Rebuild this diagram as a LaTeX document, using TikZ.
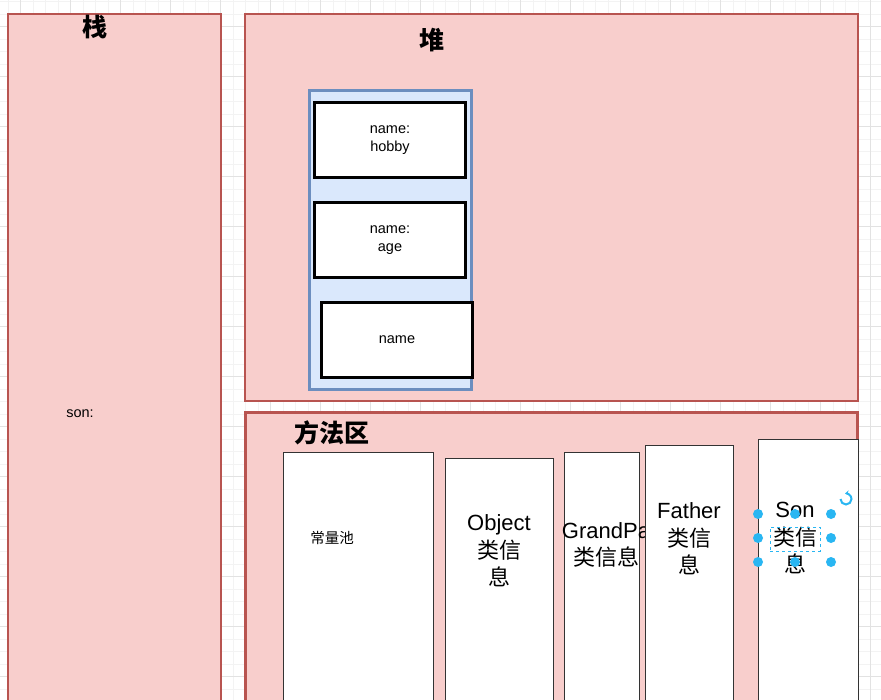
\documentclass[tikz,border=0pt]{standalone}
\usepackage{fontspec}
\setmainfont{Liberation Sans}
\newfontfamily\cjk{Noto Sans CJK SC}
\usepackage{tikz}
\usetikzlibrary{arrows.meta}
\definecolor{areafill}{HTML}{F8CECC}
\definecolor{areadraw}{HTML}{B85450}
\definecolor{objfill}{HTML}{DAE8FC}
\definecolor{objdraw}{HTML}{6C8EBF}
\definecolor{handleblue}{HTML}{29B6F2}
\definecolor{gridmajor}{HTML}{E2E2E2}
\definecolor{gridminor}{HTML}{F3F3F3}

\begin{document}
\begin{tikzpicture}[
    x=1pt, y=-1pt,
    area/.style={rectangle, anchor=north west, draw=areadraw, fill=areafill, line width=1.2pt, inner sep=0pt, outer sep=0pt},
    objbox/.style={rectangle, anchor=north west, draw=objdraw, fill=objfill, line width=3pt, inner sep=0pt},
    fieldbox/.style={rectangle, anchor=north west, draw=black, fill=white, line width=3pt, align=center, font=\fontsize{14.5}{18}\selectfont, minimum width=151pt, minimum height=75pt, inner sep=0pt},
    classbox/.style={rectangle, anchor=north west, draw=black!80, fill=white, line width=1.3pt, minimum height=270pt, inner sep=0pt},
    title/.style={font=\fontsize{25}{28}\selectfont\cjk\bfseries, inner sep=0pt},
    smalltext/.style={font=\fontsize{14.5}{18}\selectfont, inner sep=0pt},
    classtext/.style={font=\fontsize{22}{27.5}\selectfont, align=center, inner sep=0pt},
    handle/.style={circle, fill=handleblue, minimum size=10pt, inner sep=0pt},
    gridline/.style={gridminor, line width=0.7pt},
    gridbold/.style={gridmajor, line width=0.9pt}
]
\useasboundingbox (0,0) rectangle (881,700);

% Background grid
\foreach \k in {-1,...,69} {\draw[gridline] ({20.7+12.5*\k},0) -- ({20.7+12.5*\k},700);}
\foreach \k in {-2,...,54} {\draw[gridline] (0,{26.7+12.5*\k}) -- (881,{26.7+12.5*\k});}
\foreach \k in {0,...,17} {\draw[gridbold] ({20.7+50*\k},0) -- ({20.7+50*\k},700);}
\foreach \k in {0,...,13} {\draw[gridbold] (0,{26.7+50*\k}) -- (881,{26.7+50*\k});}

% Stack
\node[area, minimum width=213pt, minimum height=700pt] (stack) at (8,14) {};
\node[title] (stacktitle) at (95,27) {栈};
\node[smalltext] (sonvar) at (80,414) {son:};

% Heap
\node[area, minimum width=613pt, minimum height=387pt] (heap) at (245,14) {};
\node[title] (heaptitle) at (432,40) {堆};
\node[objbox, minimum width=162pt, minimum height=299pt] (sonobj) at (308,89) {};
\node[fieldbox] (hobby) at (313,101) {name:\\hobby};
\node[fieldbox] (age) at (313,201) {name:\\age};
\node[fieldbox] (name) at (320,301) {name};

% Method area
\node[area, line width=3pt, minimum width=612pt, minimum height=300pt] (method) at (245,413) {};
\node[title] (methodtitle) at (332,433) {方法区};
\node[classbox, minimum width=150pt] (pool) at (283,452) {};
\node[smalltext] (pooltext) at (332,538) {\cjk 常量池};
\node[classbox, minimum width=108pt] (objectcls) at (445,458) {};
\node[classtext] (objecttext) at (499,551) {Object\\\cjk 类信\\\cjk 息};
\node[classbox, minimum width=75pt] (grandpacls) at (564,452) {};
\node[classtext] (grandpatext) at (606,545) {GrandPa\\\cjk 类信息};
\node[classbox, minimum width=88pt] (fathercls) at (645,445) {};
\node[classtext] (fathertext) at (689,539) {Father\\\cjk 类信\\\cjk 息};
\node[classbox, minimum width=100pt] (soncls) at (758,439) {};
\node[classtext] (sontext) at (795,538) {Son\\\cjk 类信\\\cjk 息};

% Selection handles on the Son label
\node[draw=handleblue, dashed, line width=1pt, minimum width=50pt, minimum height=24pt, inner sep=0pt] (selection) at (795,539) {};
\foreach \hx/\hy in {758/514, 795/514, 831/514, 758/538, 831/538, 758/562, 795/562, 831/562}
    \node[handle] at (\hx,\hy) {};
\coordinate (rotator) at (846,499);
\draw[handleblue, line width=2pt, -{Stealth[length=4pt, width=5pt]}] ([xshift=-5.5pt]rotator) arc[start angle=180, end angle=460, radius=5.5pt];

\end{tikzpicture}
\end{document}
